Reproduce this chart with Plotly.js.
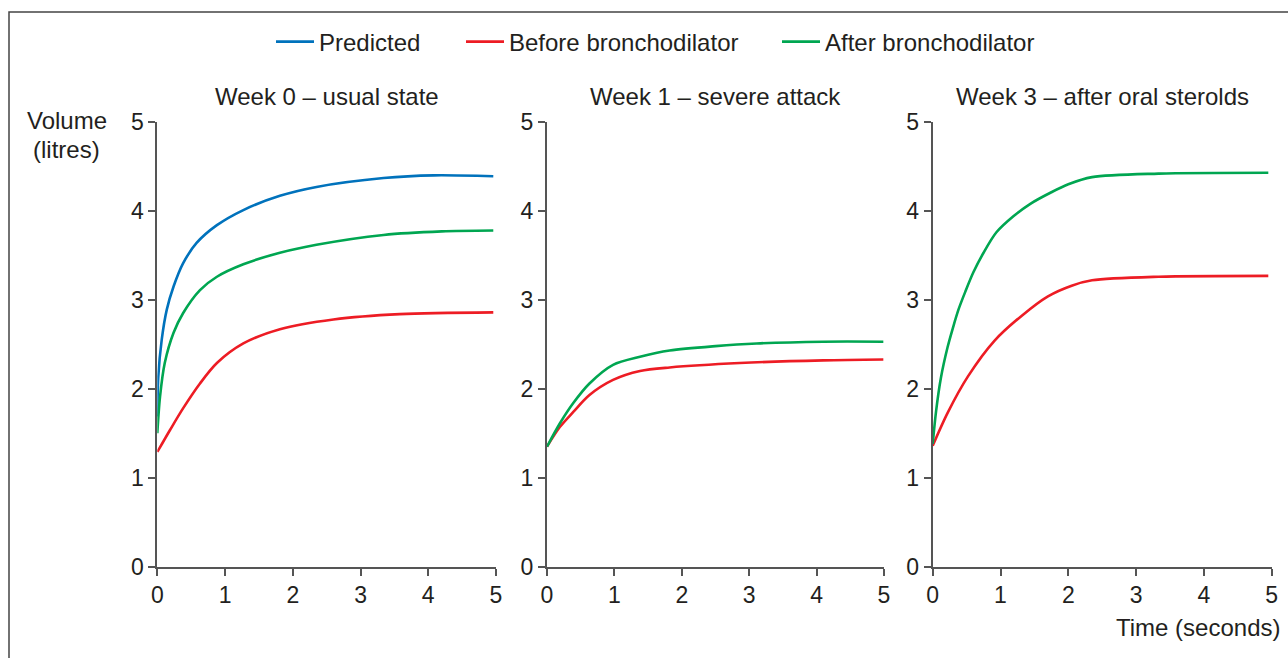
<!DOCTYPE html>
<html>
<head>
<meta charset="utf-8">
<script src="https://cdn.plot.ly/plotly-3.0.1.min.js"></script>
<style>html,body{margin:0;padding:0;background:#fff;}#chart{width:1288px;height:658px;}</style>
</head>
<body>
<div id="chart"></div>
<script>
// ---- data ----
const seriesNames = ['Predicted', 'Before bronchodilator', 'After bronchodilator'];
const panelTitles = ['Week 0 – usual state', 'Week 1 – severe attack', 'Week 3 – after oral sterolds'];
const xTicks = [0, 1, 2, 3, 4, 5];
const yTicks = [0, 1, 2, 3, 4, 5];

// Week 0
const w0PredT = [0, 0.015, 0.065, 0.14, 0.24, 0.38, 0.58, 0.88, 1.27, 1.81, 2.35, 3.34, 4.08, 4.96];
const w0PredV = [1.69, 2.14, 2.55, 2.89, 3.15, 3.41, 3.64, 3.84, 4.01, 4.17, 4.27, 4.37, 4.40, 4.39];
const w0BeforeT = [0, 0.19, 0.38, 0.63, 0.88, 1.27, 1.81, 2.60, 3.58, 4.96];
const w0BeforeV = [1.29, 1.54, 1.78, 2.06, 2.29, 2.51, 2.67, 2.78, 2.84, 2.86];
const w0AfterT = [0, 0.04, 0.11, 0.24, 0.38, 0.63, 0.88, 1.27, 1.81, 2.35, 3.34, 4.2, 4.96];
const w0AfterV = [1.50, 1.91, 2.29, 2.63, 2.85, 3.11, 3.26, 3.40, 3.53, 3.62, 3.73, 3.77, 3.78];

// Week 1
const w1BeforeT = [0, 0.19, 0.39, 0.63, 0.98, 1.38, 1.82, 2.86, 4.10, 4.99];
const w1BeforeV = [1.35, 1.57, 1.74, 1.93, 2.10, 2.20, 2.24, 2.29, 2.32, 2.33];
const w1AfterT = [0, 0.19, 0.39, 0.63, 0.98, 1.38, 1.82, 2.5, 3.11, 4.10, 4.99];
const w1AfterV = [1.35, 1.61, 1.84, 2.06, 2.27, 2.36, 2.43, 2.48, 2.51, 2.53, 2.53];

// Week 3
const w3BeforeT = [0, 0.22, 0.52, 0.91, 1.31, 1.70, 2.05, 2.35, 3.33, 4.95];
const w3BeforeV = [1.36, 1.73, 2.14, 2.54, 2.82, 3.04, 3.16, 3.22, 3.26, 3.27];
const w3AfterT = [0, 0.05, 0.12, 0.22, 0.30, 0.38, 0.48, 0.60, 0.75, 0.94, 1.19, 1.44, 1.75, 2.0, 2.35, 3.33, 4.95];
const w3AfterV = [1.38, 1.75, 2.12, 2.47, 2.69, 2.89, 3.09, 3.31, 3.53, 3.76, 3.94, 4.08, 4.21, 4.30, 4.38, 4.42, 4.43];

// ---- styling ----
const colors = {pred: '#0072bc', before: '#ed1c24', after: '#00a651'};
const txt = '#231f20';
const axisCol = '#555555';
const font = 'Liberation Sans, Arial, Helvetica, sans-serif';
const W = 1288, H = 658;
const px = v => v / W;
const py = v => (H - v) / H;

function tr(x, y, name, color, axisIdx, show, leg) {
  const s = axisIdx === 1 ? '' : String(axisIdx);
  return {
    x: x, y: y, name: name, type: 'scatter', mode: 'lines',
    line: {color: color, width: 2.6, shape: 'spline', smoothing: 0.85},
    xaxis: 'x' + s, yaxis: 'y' + s, showlegend: show, legend: leg, hoverinfo: 'skip'
  };
}

const data = [
  tr(w0PredT, w0PredV, seriesNames[0], colors.pred, 1, true, 'legend'),
  tr(w0BeforeT, w0BeforeV, seriesNames[1], colors.before, 1, true, 'legend2'),
  tr(w0AfterT, w0AfterV, seriesNames[2], colors.after, 1, true, 'legend3'),
  tr(w1BeforeT, w1BeforeV, seriesNames[1], colors.before, 2, false, 'legend2'),
  tr(w1AfterT, w1AfterV, seriesNames[2], colors.after, 2, false, 'legend3'),
  tr(w3BeforeT, w3BeforeV, seriesNames[1], colors.before, 3, false, 'legend2'),
  tr(w3AfterT, w3AfterV, seriesNames[2], colors.after, 3, false, 'legend3')
];

const xDomains = [[157.3, 496], [547, 884], [932.7, 1271.7]];
const yDom = [py(566.7), py(122)];

function xa(i) {
  return {
    domain: [px(xDomains[i][0]), px(xDomains[i][1])],
    range: [0, 5], showline: true, linecolor: axisCol, linewidth: 2,
    ticks: 'outside', ticklen: 7, tickwidth: 2, tickcolor: axisCol,
    tickvals: xTicks, ticktext: xTicks.map(String),
    showgrid: false, zeroline: false, anchor: i === 0 ? 'y' : 'y' + (i + 1),
    tickfont: {family: font, size: 23, color: txt}, fixedrange: true
  };
}
function ya(i) {
  return {
    domain: yDom, range: [0, 5], showline: true, linecolor: axisCol, linewidth: 2,
    ticks: 'outside', ticklen: 7, tickwidth: 2, tickcolor: axisCol,
    tickvals: yTicks, ticktext: yTicks.map(String),
    showgrid: false, zeroline: false, anchor: i === 0 ? 'x' : 'x' + (i + 1),
    tickfont: {family: font, size: 23, color: txt}, fixedrange: true
  };
}

const tfont = {family: font, size: 24, color: txt};
const annotations = panelTitles.map((t, i) => ({
  text: t, xref: 'paper', yref: 'paper',
  x: px((xDomains[i][0] + xDomains[i][1]) / 2), y: py(97),
  xanchor: 'center', yanchor: 'middle', showarrow: false, font: tfont
}));
annotations.push({text: 'Volume', xref: 'paper', yref: 'paper', x: px(66.5), y: py(120),
  xanchor: 'center', yanchor: 'middle', showarrow: false, font: tfont});
annotations.push({text: '(litres)', xref: 'paper', yref: 'paper', x: px(66.5), y: py(150),
  xanchor: 'center', yanchor: 'middle', showarrow: false, font: tfont});
annotations.push({text: 'Time (seconds)', xref: 'paper', yref: 'paper', x: px(1282), y: py(627),
  xanchor: 'right', yanchor: 'middle', showarrow: false, font: tfont});

function leg(xPix) {
  return {orientation: 'h', x: px(xPix), xanchor: 'left', y: py(42), yanchor: 'middle',
    font: tfont, itemwidth: 38, bgcolor: 'rgba(0,0,0,0)', borderwidth: 0};
}

const layout = {
  width: W, height: H, margin: {l: 0, r: 0, t: 0, b: 0},
  paper_bgcolor: '#fff', plot_bgcolor: 'rgba(0,0,0,0)',
  font: {family: font, color: txt},
  xaxis: xa(0), yaxis: ya(0), xaxis2: xa(1), yaxis2: ya(1), xaxis3: xa(2), yaxis3: ya(2),
  showlegend: true,
  legend: leg(271), legend2: leg(461), legend3: leg(777),
  annotations: annotations,
  shapes: [{type: 'rect', xref: 'paper', yref: 'paper', x0: px(9), x1: 1.05, y0: -0.05, y1: py(12),
    line: {color: '#444', width: 1.5}, fillcolor: 'rgba(0,0,0,0)', layer: 'below'}]
};

Plotly.newPlot('chart', data, layout, {displayModeBar: false, staticPlot: true});
</script>
</body>
</html>
